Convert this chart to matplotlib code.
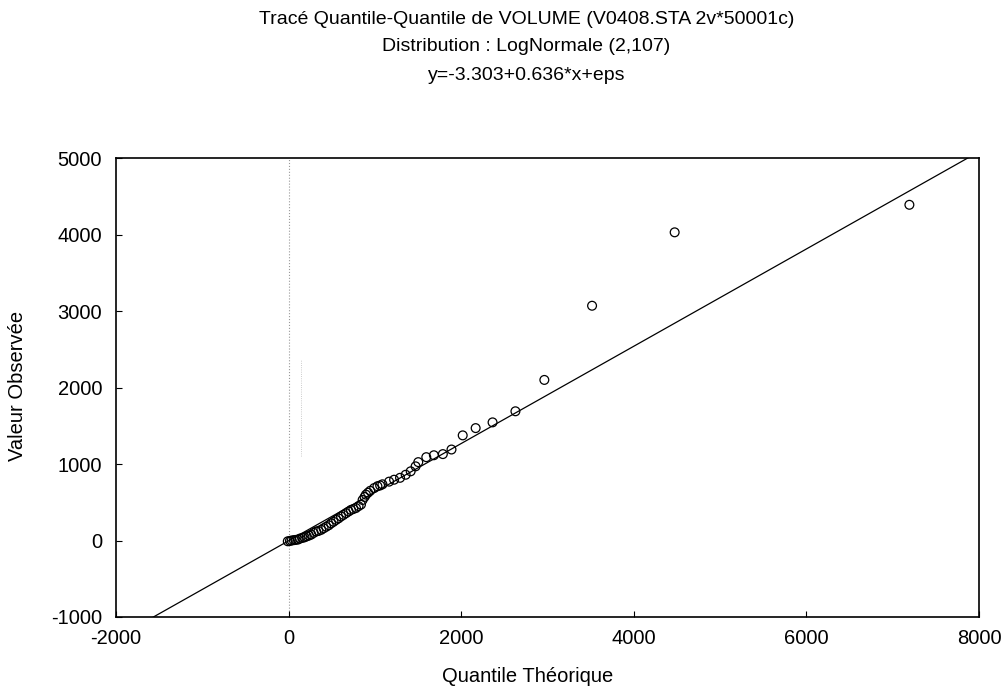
import matplotlib.pyplot as plt
import numpy as np

plt.rcParams['font.family'] = ['Liberation Sans', 'DejaVu Sans']
plt.rcParams['axes.unicode_minus'] = False

quantile_theo = [-10, 15, 35, 60, 80, 107, 130, 160, 184, 210, 235, 262, 290, 319,
                 345, 377, 405, 435, 465, 492, 520, 550, 578, 607, 635, 665, 695,
                 722, 750, 780, 810, 838, 857, 880, 896, 920, 945, 991, 1029, 1060,
                 1087, 1164, 1222, 1291, 1356, 1414, 1471, 1502, 1595, 1683, 1787,
                 1887, 2017, 2167, 2363, 2628, 2963, 3516, 4473, 7193]
valeur_obs = [-10, -5, 0, 5, 8, 12, 25, 35, 42, 55, 65, 78, 100, 118,
              125, 140, 160, 180, 200, 225, 245, 270, 290, 315, 335, 358, 380,
              400, 412, 425, 450, 470, 530, 570, 600, 625, 650, 686, 710, 720,
              735, 770, 795, 820, 860, 905, 970, 1025, 1090, 1115, 1130,
              1190, 1375, 1470, 1545, 1690, 2100, 3070, 4030, 4390]

intercept = -3.303
pente = 0.636

fig = plt.figure(figsize=(10.03, 6.90), dpi=100)
ax = fig.add_axes([0.1157, 0.1058, 0.8604, 0.665])

ax.axvline(0, color='#999999', linestyle=':', linewidth=0.8, zorder=0)
ax.axvline(140, ymin=0.35, ymax=0.56, color='#bbbbbb', linestyle=':',
           linewidth=0.6, zorder=0)

xl = np.array([-2000, 8000])
ax.plot(xl, intercept + pente * xl, color='black', linewidth=0.9)

ax.scatter(quantile_theo, valeur_obs, s=40, facecolors='none',
           edgecolors='black', linewidths=0.9, zorder=3)

ax.set_xlim(-2000, 8000)
ax.set_ylim(-1000, 5000)
ax.set_xticks([-2000, 0, 2000, 4000, 6000, 8000])
ax.set_yticks([-1000, 0, 1000, 2000, 3000, 4000, 5000])
ax.tick_params(direction='in', length=4, labelsize=14.5)
ax.tick_params(axis='x', pad=9)
ax.tick_params(axis='y', pad=10)
for s in ax.spines.values():
    s.set_linewidth(1.2)

ax.set_xlabel('Quantile Théorique', fontsize=14.5, va='center')
ax.set_ylabel('Valeur Observée', fontsize=14.5, va='center')
ax.xaxis.set_label_coords(0.5 - 20 / 863, -60 / 459)
ax.yaxis.set_label_coords(-99 / 863, 0.5 + 2 / 459)

fig.text(0.525, 0.972, 'Tracé Quantile-Quantile de VOLUME (V0408.STA 2v*50001c)',
         ha='center', va='center', fontsize=14)
fig.text(0.525, 0.932, 'Distribution : LogNormale (2,107)',
         ha='center', va='center', fontsize=14)
fig.text(0.525, 0.891, 'y=-3.303+0.636*x+eps',
         ha='center', va='center', fontsize=14)

fig.savefig('out.png', dpi=100)
